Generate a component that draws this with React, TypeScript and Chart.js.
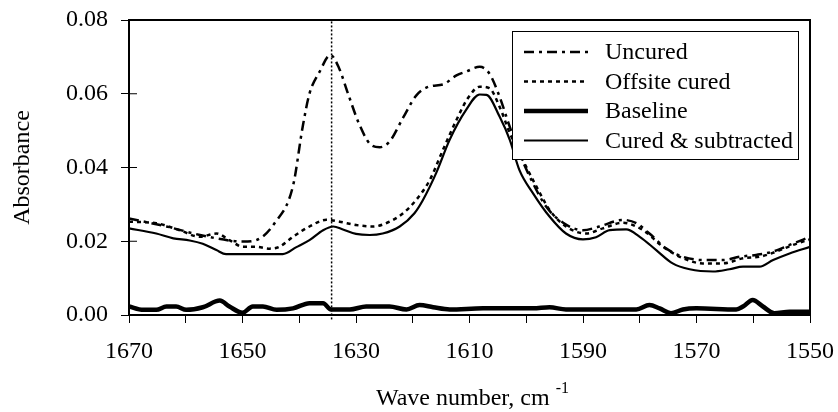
import React, { useEffect, useRef } from "react";
import { Chart, registerables } from "chart.js";

Chart.register(...registerables);

const FONT = "'Liberation Serif', 'Times New Roman', serif";

const seriesNames = ["Uncured", "Offsite cured", "Baseline", "Cured & subtracted"];

const uncuredX = [1670, 1663.4, 1657.5, 1652.3, 1650, 1647.6, 1644.3, 1641.1, 1639.4, 1638.2, 1636.4, 1634.5, 1633, 1631.4, 1629.5, 1627.6, 1625.8, 1624.1, 1621.7, 1619.4, 1617, 1614.7, 1612.3, 1610.6, 1608.2, 1606.5, 1604.7, 1602.9, 1601.2, 1598.8, 1596.5, 1593.5, 1590, 1587.1, 1583, 1580.6, 1578.3, 1575.3, 1572.4, 1568.9, 1565.3, 1562.4, 1559.5, 1556.5, 1553.6, 1550];
const uncuredY = [0.0262, 0.024, 0.0217, 0.0202, 0.0199, 0.0203, 0.025, 0.035, 0.051, 0.06, 0.066, 0.0705, 0.067, 0.06, 0.052, 0.0465, 0.0455, 0.047, 0.0535, 0.0595, 0.062, 0.0625, 0.065, 0.066, 0.0673, 0.0655, 0.0592, 0.051, 0.0438, 0.0357, 0.0294, 0.025, 0.023, 0.024, 0.0258, 0.0249, 0.0221, 0.018, 0.0158, 0.0149, 0.0149, 0.0158, 0.0163, 0.0172, 0.019, 0.0212];

const offsiteX = [1670, 1665.2, 1661.1, 1657.5, 1654.6, 1652.3, 1649.9, 1647.6, 1645.2, 1643.5, 1641.1, 1638.2, 1635.2, 1632.9, 1630, 1627, 1624.1, 1621.7, 1619.4, 1617, 1614.7, 1612.3, 1610.2, 1608.2, 1606.5, 1604.7, 1602.9, 1600.6, 1598.2, 1595.9, 1593, 1589.4, 1586.5, 1583, 1579.4, 1575.9, 1572.4, 1568.9, 1565.3, 1561.8, 1558.9, 1555.9, 1553, 1550];
const offsiteY = [0.0253, 0.0249, 0.023, 0.0212, 0.0221, 0.0203, 0.0185, 0.0185, 0.018, 0.0185, 0.0212, 0.024, 0.0258, 0.0253, 0.0244, 0.024, 0.0253, 0.0276, 0.0312, 0.0366, 0.0447, 0.0529, 0.059, 0.0619, 0.0615, 0.0565, 0.0493, 0.042, 0.0348, 0.0285, 0.024, 0.0221, 0.0235, 0.025, 0.023, 0.0185, 0.0154, 0.014, 0.014, 0.0154, 0.0158, 0.0172, 0.019, 0.0205];

const baselineX = [1670, 1667.5, 1665.2, 1663.4, 1661.7, 1659.9, 1657, 1654, 1652.3, 1650, 1648.2, 1646.4, 1644, 1641.1, 1638.2, 1635.8, 1634.4, 1631.1, 1628.2, 1624.1, 1621.1, 1618.8, 1616.4, 1613.5, 1607.6, 1598.8, 1595.9, 1593, 1580.6, 1578.3, 1576.5, 1574.5, 1572.4, 1570, 1563, 1561.8, 1560.1, 1558.3, 1556.3, 1553.6, 1550];
const baselineY = [0.0023, 0.0014, 0.0014, 0.0023, 0.0023, 0.0014, 0.0021, 0.0039, 0.0023, 0.0006, 0.0023, 0.0023, 0.0014, 0.0018, 0.0032, 0.0032, 0.0015, 0.0015, 0.0023, 0.0023, 0.0015, 0.0027, 0.0021, 0.0015, 0.0018, 0.0018, 0.0021, 0.0015, 0.0015, 0.0027, 0.0018, 0.0005, 0.0015, 0.0018, 0.0015, 0.0023, 0.0041, 0.0023, 0.0005, 0.0009, 0.0009];

const curedX = [1670, 1665.2, 1662.2, 1659.3, 1657, 1654.6, 1652.9, 1647.6, 1642.9, 1640.5, 1638.2, 1635.8, 1634, 1632.3, 1630, 1627.6, 1625.3, 1622.3, 1619.7, 1618.2, 1615.9, 1613.5, 1610.6, 1608.2, 1607, 1604.7, 1602.9, 1601.2, 1598.8, 1595.9, 1593, 1590, 1587.7, 1585.3, 1582.4, 1580, 1577.1, 1574.2, 1571.2, 1567.1, 1564.2, 1561.8, 1558.9, 1556.5, 1553.6, 1550];
const curedY = [0.0235, 0.0221, 0.0208, 0.0202, 0.0193, 0.0176, 0.0165, 0.0165, 0.0165, 0.0184, 0.0203, 0.023, 0.024, 0.0232, 0.022, 0.0217, 0.0221, 0.024, 0.0276, 0.0312, 0.0384, 0.0475, 0.0556, 0.0598, 0.0597, 0.0538, 0.0475, 0.0393, 0.033, 0.0267, 0.0221, 0.0205, 0.0211, 0.023, 0.0232, 0.0212, 0.0176, 0.014, 0.0124, 0.0118, 0.0124, 0.0131, 0.0131, 0.0149, 0.0167, 0.0185];

const markerX = [1634.3, 1634.3];
const markerY = [-0.0012, 0.08];

const xTickLabels = [1670, 1650, 1630, 1610, 1590, 1570, 1550];
const yTickLabels = ["0.00", "0.02", "0.04", "0.06", "0.08"];
const xTitle = "Wave number, cm";
const xTitleSup = "-1";
const yTitle = "Absorbance";

const pts = (xs: number[], ys: number[]) => xs.map((x, i) => ({ x, y: ys[i] }));

const zeroPad = (s: any) => {
  s.paddingTop = 0;
  s.paddingBottom = 0;
  s.paddingLeft = 0;
  s.paddingRight = 0;
};

const framePlugin = {
  id: "frameLegend",
  afterDraw(chart: any) {
    const { ctx, chartArea: ca, scales } = chart;
    ctx.save();
    ctx.strokeStyle = "#000";
    ctx.lineWidth = 2;
    ctx.strokeRect(ca.left, ca.top, ca.right - ca.left, ca.bottom - ca.top);
    ctx.lineWidth = 1;
    const ys = scales.y;
    ys.ticks.forEach((t: any) => {
      const py = ys.getPixelForValue(t.value);
      ctx.beginPath();
      ctx.moveTo(ca.left, py);
      ctx.lineTo(ca.left + 8, py);
      ctx.stroke();
    });
    const bx = ca.right - 298;
    const by = ca.top + 11;
    const bw = 286;
    const bh = 128;
    ctx.fillStyle = "#fff";
    ctx.fillRect(bx, by, bw, bh);
    ctx.lineWidth = 1;
    ctx.strokeStyle = "#000";
    ctx.strokeRect(bx + 0.5, by + 0.5, bw, bh);
    ctx.font = `24px ${FONT}`;
    ctx.textBaseline = "middle";
    ctx.textAlign = "left";
    chart.data.datasets.forEach((ds: any, i: number) => {
      if (i >= seriesNames.length) return;
      const ry = by + 21 + i * 29.5;
      ctx.beginPath();
      ctx.setLineDash(ds.borderDash || []);
      ctx.lineWidth = ds.borderWidth;
      ctx.strokeStyle = "#000";
      ctx.moveTo(bx + 12, ry);
      ctx.lineTo(bx + 76, ry);
      ctx.stroke();
      ctx.setLineDash([]);
      ctx.fillStyle = "#000";
      ctx.fillText(ds.label, bx + 93, ry + 1);
    });
    ctx.font = `24px ${FONT}`;
    const w1 = ctx.measureText(xTitle).width;
    ctx.font = `16px ${FONT}`;
    const w2 = ctx.measureText(xTitleSup).width;
    const gap = 6;
    const total = w1 + gap + w2;
    const cx = (ca.left + ca.right) / 2 + 3;
    const sx = cx - total / 2;
    ctx.textBaseline = "alphabetic";
    ctx.fillStyle = "#000";
    ctx.font = `24px ${FONT}`;
    ctx.fillText(xTitle, sx, 405);
    ctx.font = `16px ${FONT}`;
    ctx.fillText(xTitleSup, sx + w1 + gap, 393);
    ctx.restore();
  },
};

export default function App() {
  const ref = useRef<HTMLCanvasElement>(null);
  useEffect(() => {
    if (!ref.current) return;
    const common = { pointRadius: 0, borderColor: "#000", backgroundColor: "#000", fill: false, cubicInterpolationMode: "monotone" as const };
    const chart = new Chart(ref.current, {
      type: "line",
      data: {
        datasets: [
          { ...common, label: seriesNames[0], data: pts(uncuredX, uncuredY), borderWidth: 2.5, borderDash: [10, 5, 3, 5] },
          { ...common, label: seriesNames[1], data: pts(offsiteX, offsiteY), borderWidth: 2.5, borderDash: [4, 4] },
          { ...common, label: seriesNames[2], data: pts(baselineX, baselineY), borderWidth: 4.5 },
          { ...common, label: seriesNames[3], data: pts(curedX, curedY), borderWidth: 2.2 },
          { ...common, label: "marker", data: pts(markerX, markerY), borderWidth: 1.5, borderDash: [2, 2], clip: false as any, cubicInterpolationMode: "default" as const },
        ],
      },
      options: {
        responsive: false,
        animation: false,
        events: [],
        layout: { autoPadding: false, padding: { top: 20, right: 28, left: 0, bottom: 0 } },
        plugins: { legend: { display: false }, tooltip: { enabled: false } },
        scales: {
          x: {
            type: "linear",
            reverse: true,
            min: 1550,
            max: 1670,
            afterFit: (s: any) => { s.height = 97; zeroPad(s); },
            border: { display: true, color: "#000", width: 2 },
            grid: { display: true, drawOnChartArea: false, drawTicks: true, tickLength: 8, color: "#000", lineWidth: 1 },
            ticks: {
              stepSize: 10,
              autoSkip: false,
              maxRotation: 0,
              padding: 14,
              color: "#000",
              font: { family: FONT, size: 24 },
              callback: (v: any) => (xTickLabels.includes(Number(v)) ? String(v) : ""),
            },
          },
          y: {
            type: "linear",
            min: 0,
            max: 0.08,
            afterFit: (s: any) => { s.width = 129; zeroPad(s); },
            border: { display: true, color: "#000", width: 2 },
            grid: { display: true, drawOnChartArea: false, drawTicks: true, tickLength: 8, color: "#000", lineWidth: 1 },
            ticks: {
              stepSize: 0.02,
              padding: 13,
              color: "#000",
              font: { family: FONT, size: 24 },
              callback: (_v: any, i: number) => yTickLabels[i],
            },
            title: { display: true, text: yTitle, color: "#000", font: { family: FONT, size: 24 }, padding: { top: 8, bottom: 0 } },
          },
        },
      },
      plugins: [framePlugin],
    });
    return () => chart.destroy();
  }, []);
  return (
    <div style={{ position: "absolute", left: 0, top: 0, width: 838, height: 412, background: "#fff" }}>
      <canvas ref={ref} width={838} height={412} style={{ width: 838, height: 412 }} />
    </div>
  );
}
